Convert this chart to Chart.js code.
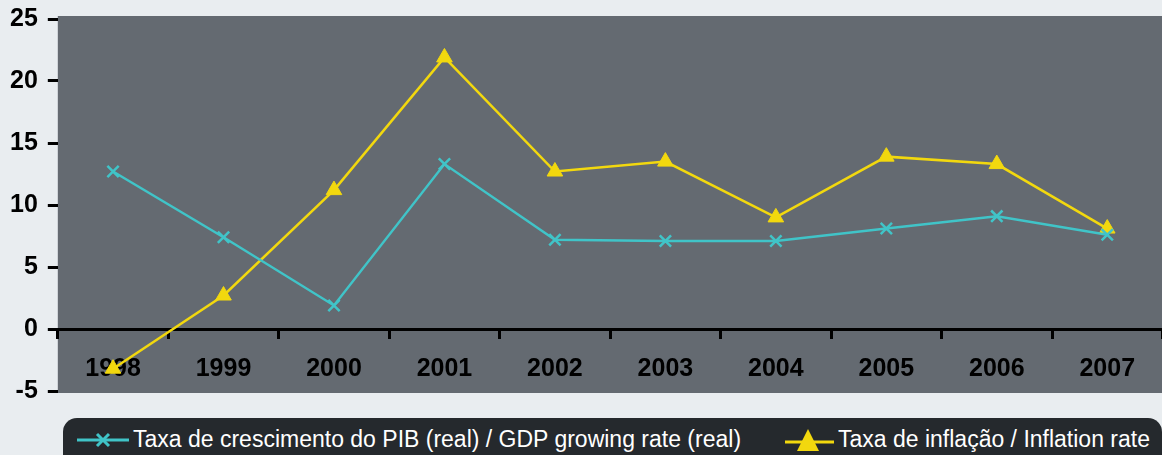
<!DOCTYPE html>
<html lang="en">
<head>
    <meta charset="UTF-8">
    <title>PIB / Inflação</title>
    <style>
        body {
            margin: 0;
            background-color: #e9edf0;
            font-family: "Liberation Sans", Arial, sans-serif;
            overflow: hidden;
            width: 1162px;
            height: 455px;
        }
        .chart-box {
            position: absolute;
            left: 0;
            top: -6px;
            width: 1173px;
            height: 422px;
        }
        .legend {
            position: absolute;
            left: 63px;
            top: 418px;
            width: 1099px;
            height: 60px;
            background-color: #25292d;
            border-radius: 14px;
            color: #fff;
            font-size: 23px;
        }
        .legend .item {
            position: absolute;
            top: 8px;
            display: flex;
            align-items: center;
            white-space: nowrap;
        }
        .legend svg { margin-right: 4px; }
    </style>
</head>
<body>
    <div class="chart-box">
        <canvas id="mainChart"></canvas>
    </div>
    <div class="legend">
        <div class="item" style="left: 14px;">
            <svg width="52" height="22"><line x1="0" y1="11" x2="52" y2="11" stroke="#40c4c8" stroke-width="3"/><path d="M20 5 L32 17 M32 5 L20 17" stroke="#40c4c8" stroke-width="3"/></svg>
            <span>Taxa de crescimento do PIB (real) / GDP growing rate (real)</span>
        </div>
        <div class="item" style="left: 722px;">
            <svg width="49" height="26"><line x1="0" y1="15" x2="49" y2="15" stroke="#f2d80e" stroke-width="3"/><path d="M23 2 L34 24 L12 24 Z" fill="#f2d80e"/></svg>
            <span>Taxa de inflação / Inflation rate</span>
        </div>
    </div>

    <script src="https://cdn.jsdelivr.net/npm/chart.js"></script>
    <script>
        const years = ["1998", "1999", "2000", "2001", "2002", "2003", "2004", "2005", "2006", "2007"];
        const gdpGrowth = [12.7, 7.4, 1.9, 13.3, 7.2, 7.1, 7.1, 8.1, 9.1, 7.6];
        const inflation = [-3.2, 2.7, 11.2, 21.9, 12.7, 13.5, 9.0, 13.9, 13.3, 8.1];
        const yTicks = [-5, 0, 5, 10, 15, 20, 25];

        // gray plot background, drawn a bit past the chart area like the original
        const plotBackground = {
            id: "plotBackground",
            beforeDraw(chart) {
                const { ctx, chartArea } = chart;
                ctx.save();
                ctx.fillStyle = "#646a71";
                ctx.fillRect(chartArea.left, chartArea.top - 3, chartArea.right - chartArea.left, chartArea.bottom - chartArea.top + 5);
                ctx.restore();
            }
        };

        const ctx = document.getElementById("mainChart").getContext("2d");
        new Chart(ctx, {
            type: "line",
            data: {
                labels: years,
                datasets: [{
                    label: "Taxa de crescimento do PIB (real) / GDP growing rate (real)",
                    data: gdpGrowth,
                    borderColor: "#40c4c8",
                    backgroundColor: "#40c4c8",
                    borderWidth: 2.5,
                    pointStyle: "crossRot",
                    pointRadius: 8,
                    pointBorderWidth: 2.5,
                    tension: 0
                }, {
                    label: "Taxa de inflação / Inflation rate",
                    data: inflation,
                    borderColor: "#f2d80e",
                    backgroundColor: "#f2d80e",
                    borderWidth: 2.5,
                    pointStyle: "triangle",
                    pointRadius: 9,
                    pointBorderWidth: 1,
                    tension: 0
                }]
            },
            options: {
                responsive: true,
                maintainAspectRatio: false,
                animation: false,
                layout: { padding: { top: 7, left: 0, right: 4, bottom: 8 } },
                plugins: {
                    legend: { display: false },
                    tooltip: { enabled: false }
                },
                scales: {
                    x: {
                        position: { y: 0 },
                        offset: true,
                        grid: {
                            drawOnChartArea: false,
                            offset: true,
                            tickLength: 8,
                            tickWidth: 3,
                            tickColor: "#000"
                        },
                        border: { display: true, color: "#000", width: 3 },
                        ticks: {
                            color: "#000",
                            padding: 17,
                            font: { family: "Liberation Sans", size: 25, weight: "bold" }
                        }
                    },
                    y: {
                        min: -5,
                        max: 25,
                        afterBuildTicks(axis) {
                            axis.ticks = yTicks.map(v => ({ value: v }));
                        },
                        grid: {
                            drawOnChartArea: false,
                            tickLength: 10,
                            tickWidth: 3,
                            tickColor: "#000"
                        },
                        border: { display: false },
                        ticks: {
                            color: "#000",
                            padding: 10,
                            font: { family: "Liberation Sans", size: 25, weight: "bold" }
                        }
                    }
                }
            },
            plugins: [plotBackground]
        });
    </script>
</body>
</html>
